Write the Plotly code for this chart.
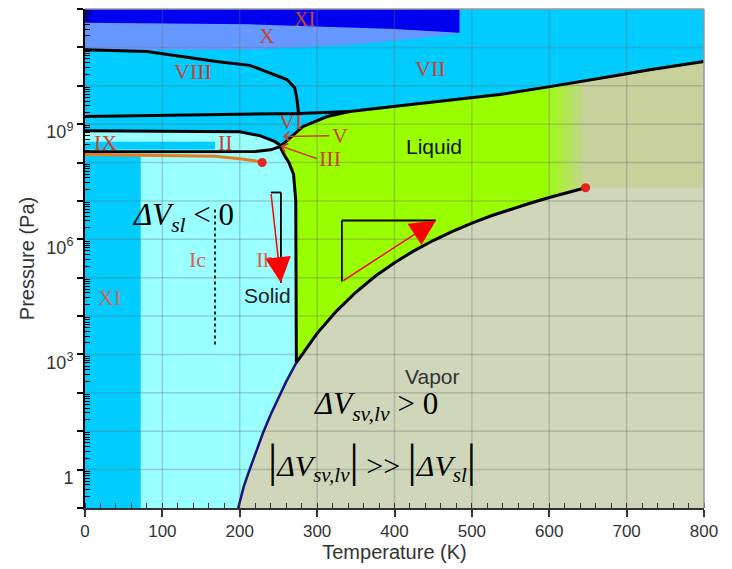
import plotly.graph_objects as go

# ---------------- data ----------------
x_ticks = [0, 100, 200, 300, 400, 500, 600, 700, 800]
y_exponents = list(range(-1, 13))

# sublimation curve (ice - vapour)
T_sub = [198, 205, 210, 220, 230, 240, 250, 260, 273.16]
P_sub = [0.1, 0.35, 0.7, 2.65, 8.97, 27.3, 76, 196, 611]

# vaporisation curve (liquid - vapour), triple point -> critical point
T_vap = [273.16, 300, 325, 350, 375, 400, 425, 450, 475, 500, 525, 550, 575, 600, 625, 647]
P_vap = [611, 3.54e3, 1.35e4, 4.17e4, 1.09e5, 2.46e5, 5.0e5, 9.3e5, 1.6e6, 2.64e6,
         4.1e6, 6.1e6, 8.7e6, 1.23e7, 1.69e7, 2.2e7]

# melting curve of ice Ih
T_melt_Ih = [273.16, 273.1, 273.0, 272.4, 269.5, 263.5, 258, 255, 252]
P_melt_Ih = [611, 1e5, 1e6, 1e7, 5e7, 1e8, 1.5e8, 2.0e8, 2.6e8]

# melting curve of high-pressure ices (III, V, VI, VII)
T_melt_hp = [252, 262, 274, 282, 313, 342, 407, 472, 536, 601, 643, 687, 730, 800]
P_melt_hp = [2.6e8, 3.9e8, 6.0e8, 8.7e8, 1.58e9, 2.14e9, 3.0e9, 4.3e9, 5.9e9, 9.5e9,
             1.29e10, 1.86e10, 2.63e10, 4.27e10]

# VI / VII-VIII boundary
T_VI = [0, 277, 342]
P_VI = [1.58e9, 1.9e9, 2.14e9]

# VIII / VII boundary
T_VIII = [0, 80, 170, 213, 235, 261, 271, 274, 276]
P_VIII = [8.7e10, 7.8e10, 4.3e10, 3.4e10, 2.3e10, 1.45e10, 8.9e9, 4.4e9, 1.9e9]

# ice II upper and lower boundaries
T_II_top = [0, 200, 226, 245, 256]
P_II_top = [6.7e8, 6.3e8, 5.0e8, 3.55e8, 2.5e8]
T_II_bot = [0, 220, 240, 252, 258]
P_II_bot = [1.9e8, 1.95e8, 2.14e8, 2.6e8, 3.2e8]

# orange line
T_orange = [0, 168, 200, 219, 229]
P_orange = [1.62e8, 1.45e8, 1.26e8, 1.12e8, 1.0e8]

# critical point
T_crit, P_crit = 647, 2.2e7

# ice X and high-pressure XI bands
T_X = [0, 213, 342, 429, 484]
P_X_low = [8.7e10, 8.7e10, 1.17e11, 1.7e11, 2.3e11]
T_XIh = [0, 213, 400, 484]
P_XIh_low = [4.4e11, 4.0e11, 3.0e11, 2.4e11]

# ice XI strip (low T) and ice IX bar
T_XI_edge, P_XI_top = 72, 1.62e8
T_IX_edge, P_IX_low, P_IX_high = 168, 2.2e8, 3.5e8

# fade from liquid into supercritical
T_fade = [598, 609, 620, 631, 642]

P_min, P_max, T_max = 0.1, 1e12, 800

# ---------------- colours ----------------
C_CYAN = "#00CCFF"
C_LIGHT = "#99FFFF"
C_LIME = (153, 255, 0)
C_SUPER = (200, 208, 156)
C_VAPOR = "#D0D6B9"
C_X = "#6699FF"
C_XIh = "#0000F0"
RED_TXT = "#C94230"
RED_TXT2 = "#D9634F"

fig = go.Figure()


def poly(xs, ys, color):
    fig.add_trace(go.Scatter(x=xs, y=ys, mode="lines", fill="toself", fillcolor=color,
                             line=dict(width=0), hoverinfo="skip", showlegend=False))


def line(xs, ys, color, width=3, dash=None):
    fig.add_trace(go.Scatter(x=xs, y=ys, mode="lines",
                             line=dict(color=color, width=width, dash=dash),
                             hoverinfo="skip", showlegend=False))


def rgb(c):
    return "rgb(%d,%d,%d)" % c


# liquid + supercritical (lime)
poly(T_melt_Ih + T_melt_hp[1:] + [T_max] + T_vap[::-1],
     P_melt_Ih + P_melt_hp[1:] + [P_crit] + P_vap[::-1], rgb(C_LIME))

# fade strips
n = len(T_fade) - 1
for i in range(n):
    f = (i + 1) / (n + 1)
    col = tuple(int(round(a + (b - a) * f)) for a, b in zip(C_LIME, C_SUPER))
    poly([T_fade[i], T_fade[i + 1], T_fade[i + 1], T_fade[i]],
         [1e7, 1e7, 1e11, 1e11], rgb(col))
poly([T_fade[-1], T_max, T_max, T_fade[-1]], [1e7, 1e7, 1e11, 1e11], rgb(C_SUPER))

# vapour
poly(T_sub + T_vap[1:] + [T_max, T_max],
     P_sub + P_vap[1:] + [P_crit, P_min], C_VAPOR)

# cyan above high-pressure melting line
poly(T_melt_hp + [T_max, T_melt_hp[0]], P_melt_hp + [P_max, P_max], C_CYAN)

# ice X and top XI
poly(T_X + [T_X[-1], 0], P_X_low + [P_max, P_max], C_X)
poly(T_XIh + [T_XIh[-1], 0], P_XIh_low + [P_max, P_max], C_XIh)

# ice Ih / Ic / II (light cyan)
poly([0] + T_sub + T_melt_Ih[1:] + T_II_top[-2::-1],
     [P_min] + P_sub + P_melt_Ih[1:] + P_II_top[-2::-1], C_LIGHT)

# ice XI strip and IX bar
poly([0, T_XI_edge, T_XI_edge, 0], [P_min, P_min, P_XI_top, P_XI_top], C_CYAN)
poly([0, T_IX_edge, T_IX_edge, 0], [P_IX_low, P_IX_low, P_IX_high, P_IX_high], C_CYAN)

# grid lines on top of the coloured regions
gx, gy = [], []
for t in x_ticks[1:-1]:
    gx += [t, t, None]
    gy += [P_min, P_max, None]
for e in y_exponents[1:-1]:
    gx += [0, T_max, None]
    gy += [10.0 ** e, 10.0 ** e, None]
fig.add_trace(go.Scatter(x=gx, y=gy, mode="lines",
                         line=dict(color="rgba(110,110,110,0.32)", width=1.5),
                         hoverinfo="skip", showlegend=False))

# phase boundaries
line(T_melt_Ih, P_melt_Ih, "black")
line(T_melt_hp, P_melt_hp, "black")
line(T_vap, P_vap, "black")
line(T_sub, P_sub, "#141480", width=2.5)
line(T_VI, P_VI, "black")
line(T_VIII, P_VIII, "black")
line(T_II_top, P_II_top, "black")
line(T_II_bot, P_II_bot, "black")
line(T_orange, P_orange, "#E87A22", width=3)
fig.add_trace(go.Scatter(x=[T_crit, T_orange[-1]], y=[P_crit, P_orange[-1]], mode="markers",
                         marker=dict(color="#E2261B", size=9), hoverinfo="skip",
                         showlegend=False))

# ---------------- text ----------------
serif = "Liberation Serif, Times New Roman, serif"
sans = "Liberation Sans, Arial, sans-serif"

roman = [("XI", 284, 11.75, RED_TXT, 20), ("X", 235, 11.31, RED_TXT, 22),
         ("VIII", 139.5, 10.37, RED_TXT, 22), ("VII", 446, 10.45, RED_TXT, 22),
         ("IX", 27, 8.52, RED_TXT, 22), ("II", 182, 8.52, RED_TXT, 22),
         ("VI", 265, 9.07, RED_TXT, 22), ("Ic", 145, 5.47, RED_TXT2, 22),
         ("Ih", 232.6, 5.47, RED_TXT2, 22), ("XI", 32, 4.48, RED_TXT2, 22)]
ann = []
for txt, xx, yy, c, s in roman:
    ann.append(dict(x=xx, y=yy, text=txt, showarrow=False,
                    font=dict(family=serif, size=s, color=c)))

# V and III with small arrows
ann.append(dict(x=256, y=8.68, ax=316, ay=8.70, axref="x", ayref="y", text="V",
                showarrow=True, arrowhead=4, arrowsize=1.2, arrowwidth=1.5,
                arrowcolor=RED_TXT, xanchor="left",
                font=dict(family=serif, size=22, color=RED_TXT)))
ann.append(dict(x=253, y=8.43, ax=300, ay=8.10, axref="x", ayref="y", text="III",
                showarrow=True, arrowhead=4, arrowsize=1.2, arrowwidth=1.5,
                arrowcolor=RED_TXT, xanchor="left",
                font=dict(family=serif, size=22, color=RED_TXT)))

for txt, xx, yy, c in [("Liquid", 451, 8.42, "#111"), ("Solid", 236, 4.53, "#222"),
                       ("Vapor", 448, 2.42, "#333")]:
    ann.append(dict(x=xx, y=yy, text=txt, showarrow=False,
                    font=dict(family=sans, size=21, color=c)))

dv_sl = "<i>ΔV</i><sub><i>sl</i></sub>"
dv_svlv = "<i>ΔV</i><sub><i>sv,lv</i></sub>"
bar = "<span style='font-size:46px'>|</span>"
ann.append(dict(x=127, y=6.59, text=dv_sl + " < 0", showarrow=False,
                font=dict(family=serif, size=31, color="black")))
ann.append(dict(x=375, y=1.66, text=dv_svlv + " > 0", showarrow=False,
                font=dict(family=serif, size=31, color="black")))
ann.append(dict(x=371, y=0.23, text=bar + dv_svlv + bar + " >> " + bar + dv_sl + bar,
                showarrow=False, font=dict(family=serif, size=30, color="black")))

# red arrows (Clapeyron slopes)
ann.append(dict(x=253.2, y=4.87, ax=240.3, ay=7.22, axref="x", ayref="y", text="",
                showarrow=True, arrowhead=2, arrowsize=3.4, arrowwidth=1.5,
                arrowcolor="#FF0000", standoff=0, startstandoff=0))
ann.append(dict(x=453.5, y=6.49, ax=332, ay=4.90, axref="x", ayref="y", text="",
                showarrow=True, arrowhead=2, arrowsize=3.4, arrowwidth=1.5,
                arrowcolor="#FF0000", standoff=0, startstandoff=0))


def hline(x0, x1, e, **kw):
    return dict(type="line", x0=x0, x1=x1, y0=10.0 ** e, y1=10.0 ** e, **kw)


def vline(x, e0, e1, **kw):
    return dict(type="line", x0=x, x1=x, y0=10.0 ** e0, y1=10.0 ** e1, **kw)


blk = dict(color="black", width=1.8)
shapes = [
    hline(240.3, 253.2, 7.22, line=blk),
    vline(253.2, 7.22, 4.87, line=blk),
    vline(332, 4.90, 6.49, line=blk),
    hline(332, 453.5, 6.49, line=blk),
    vline(168, 3.26, 6.85, line=dict(color="#222", width=2, dash="dot")),
    dict(type="line", xref="paper", yref="paper", x0=0, y0=1, x1=1, y1=1,
         line=dict(color="#999", width=1.5)),
    dict(type="line", xref="paper", yref="paper", x0=1, y0=0, x1=1, y1=1,
         line=dict(color="#999", width=1.5)),
]

y_tickvals = [10.0 ** e for e in y_exponents]
y_ticktext = [("1" if e == 0 else "10<sup>%d</sup>" % e) if e % 3 == 0 else "" for e in y_exponents]
y_minor = [m * 10.0 ** e for e in y_exponents[:-1] for m in range(2, 10)]

fig.update_layout(
    width=724, height=561,
    margin=dict(l=77, r=28, t=1, b=61, autoexpand=False),
    paper_bgcolor="white", plot_bgcolor=C_CYAN,
    showlegend=False, annotations=ann, shapes=shapes,
    xaxis=dict(range=[0, 800], tickvals=x_ticks, ticks="outside", ticklen=7, tickwidth=1.5,
               tickcolor="#333", showgrid=False, zeroline=False, showline=True,
               linecolor="#333", linewidth=1.5,
               minor=dict(dtick=20, ticks="inside", ticklen=5, tickcolor="#333", tickwidth=1),
               tickfont=dict(family=sans, size=17, color="#333"),
               title=dict(text="Temperature (K)", font=dict(family=sans, size=20, color="#333"),
                          standoff=3)),
    yaxis=dict(type="log", range=[-1, 12], tickvals=y_tickvals, ticktext=y_ticktext,
               ticks="outside", ticklen=6, tickwidth=2, tickcolor="black",
               ticklabelshift=8,
               showgrid=False, zeroline=False, showline=True, linecolor="black", linewidth=2,
               minor=dict(tickvals=y_minor, ticks="inside", ticklen=5, tickcolor="black",
                          tickwidth=1),
               tickfont=dict(family=sans, size=18, color="#333"),
               title=dict(text="Pressure (Pa)", font=dict(family=sans, size=20, color="#333"),
                          standoff=6)),
)

fig.write_html("out.html")
